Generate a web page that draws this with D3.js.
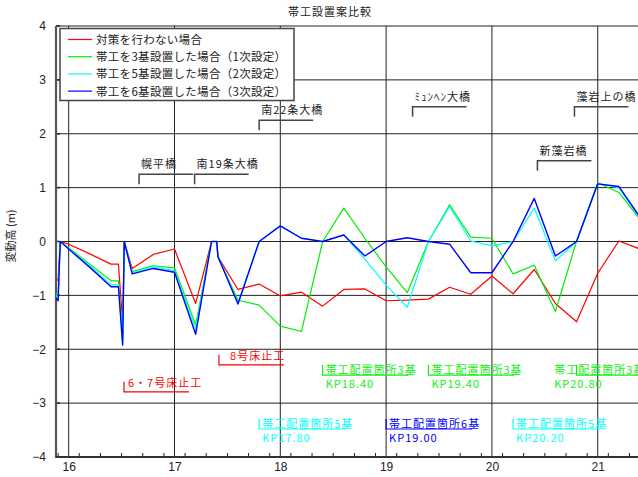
<!doctype html>
<html lang="ja">
<head>
<meta charset="UTF-8">
<title>帯工設置案比較</title>
<style>
  body { margin: 0; background: #fff; }
  svg { display: block; }
</style>
</head>
<body>
<script src="https://cdn.jsdelivr.net/npm/d3@7"></script>
<script>

    // KP (km) and 変動高 (m) for each case
    const kp = [15.88, 15.9, 15.92, 16.0, 16.2, 16.4, 16.47, 16.51, 16.525, 16.6, 16.8, 17.0, 17.2, 17.35, 17.4, 17.41,
        17.6, 17.8, 18.0, 18.2, 18.4, 18.6, 18.8, 19.0, 19.2, 19.4, 19.6, 19.8, 20.0, 20.2, 20.4, 20.6, 20.8, 21.0, 21.2, 21.4]
    const noMeasure = [-0.71, -0.72, 0, -0.05, -0.23, -0.42, -0.42, -1.5, 0, -0.50, -0.24, -0.14, -1.15, 0, 0, -0.28,
        -0.89, -0.79, -1.01, -0.94, -1.20, -0.89, -0.88, -1.10, -1.09, -1.07, -0.85, -0.98, -0.64, -0.97, -0.52, -1.15, -1.49, -0.59, 0.01, -0.14]
    const plan3 = [-0.96, -1.0, 0, -0.12, -0.42, -0.73, -0.73, -1.8, 0, -0.56, -0.45, -0.49, -1.55, 0, 0, -0.28,
        -1.09, -1.18, -1.57, -1.67, 0.0, 0.62, 0.06, -0.47, -0.95, 0.0, 0.68, 0.08, 0.06, -0.60, -0.44, -1.30, 0.01, 1.09, 0.91, 0.41]
    const plan5 = [-1.0, -1.05, 0, -0.13, -0.45, -0.80, -0.80, -1.88, 0, -0.58, -0.47, -0.54, -1.63, 0, 0, -0.28,
        -1.13, 0, 0.29, 0.06, 0.0, 0.12, -0.33, -0.81, -1.22, 0.0, 0.65, 0.01, -0.08, 0.0, 0.62, -0.36, 0.0, 1.08, 1.0, 0.43]
    const plan6 = [-1.05, -1.1, 0, -0.14, -0.48, -0.84, -0.84, -1.92, 0, -0.60, -0.50, -0.57, -1.72, 0, 0, -0.28,
        -1.16, 0, 0.29, 0.06, 0.0, 0.12, -0.27, 0.0, 0.07, 0.0, -0.05, -0.58, -0.58, 0.0, 0.80, -0.27, 0.0, 1.07, 1.02, 0.45]

    const seriesNames = ['対策を行わない場合', '帯工を3基設置した場合（1次設定）', '帯工を5基設置した場合（2次設定）', '帯工を6基設置した場合（3次設定）']
    const seriesValues = [noMeasure, plan3, plan5, plan6]
    const seriesColors = ['#ff0000', '#00ee00', '#00ffff', '#0000ff']

    const xTicks = [16, 17, 18, 19, 20, 21]
    const yTicks = [-4, -3, -2, -1, 0, 1, 2, 3, 4]

    // bridges: name, KP, level (m) of the bracket
    const bridgeNames = ['幌平橋', '南19条大橋', '南22条大橋', 'ﾐｭﾝﾍﾝ大橋', '新藻岩橋', '藻岩上の橋']
    const bridgeKP = [16.665, 17.19, 17.8, 19.25, 20.43, 20.78]
    const bridgeLevel = [1.25, 1.25, 2.25, 2.5, 1.5, 2.5]

    // drop structures (床止工)
    const weirNames = ['6・7号床止工', '8号床止工']
    const weirKP = [16.523, 17.42]
    const weirTextKP = [16.56, 17.525]
    const weirLevel = [-2.79, -2.29]

    // groyne placement notes
    const groyneLabels = ['帯工配置箇所3基', '帯工配置箇所3基', '帯工配置箇所3基', '帯工配置箇所5基', '帯工配置箇所6基', '帯工配置箇所5基']
    const groyneKP = [18.4, 19.4, 20.8, 17.8, 19.0, 20.2]
    const groyneTextKP = [18.4, 19.4, 20.56, 17.8, 19.0, 20.2]
    const groyneLevel = [-2.48, -2.48, -2.48, -3.48, -3.48, -3.48]
    const groyneSeries = [1, 1, 1, 2, 3, 2]

    const W = 638, H = 477
    const plot = {left: 56, right: 639, top: 26, bottom: 457}

    const svg = d3.select('body').append('svg')
        .attr('width', W)
        .attr('height', H)

    const x = d3.scaleLinear().domain([15.88, 21.39]).range([plot.left, plot.right])
    const y = d3.scaleLinear().domain([-4, 4]).range([plot.bottom, plot.top])

    const cjk = '"Noto Sans CJK JP", "Noto Sans", sans-serif'

    // grid
    svg.append('g').selectAll('line')
        .data(xTicks)
        .join('line')
        .attr('x1', d => x(d)).attr('x2', d => x(d))
        .attr('y1', plot.top).attr('y2', plot.bottom)
        .attr('stroke', '#222').attr('stroke-width', 1)

    svg.append('g').selectAll('line')
        .data(yTicks.slice(1, -1))
        .join('line')
        .attr('x1', plot.left).attr('x2', plot.right)
        .attr('y1', d => y(d)).attr('y2', d => y(d))
        .attr('stroke', '#222').attr('stroke-width', 1)

    // top border
    svg.append('line')
        .attr('x1', plot.left).attr('x2', plot.right)
        .attr('y1', plot.top).attr('y2', plot.top)
        .attr('stroke', '#222').attr('stroke-width', 1.2)

    // axes
    const xAxis = d3.axisBottom(x).tickValues(xTicks).tickSize(0).tickPadding(5).tickFormat(d3.format('d'))
    const gx = svg.append('g').attr('transform', `translate(0,${plot.bottom})`).call(xAxis)
    gx.select('.domain').remove()
    gx.selectAll('text').attr('font-family', '"Liberation Sans", Arial, sans-serif').attr('font-size', 12).attr('fill', '#222')

    const minor = d3.range(15.9, 21.39, 0.2).map(d => +d.toFixed(1)).filter(d => Math.abs(d - Math.round(d)) > 0.01)
    svg.append('g').selectAll('line')
        .data(minor)
        .join('line')
        .attr('x1', d => x(d)).attr('x2', d => x(d))
        .attr('y1', plot.bottom - 4).attr('y2', plot.bottom)
        .attr('stroke', '#222').attr('stroke-width', 1)

    const yAxis = d3.axisLeft(y).tickValues(yTicks).tickSize(0).tickPadding(10).tickFormat(d => d < 0 ? '\u2212' + Math.abs(d) : d)
    const gy = svg.append('g').attr('transform', `translate(${plot.left},0)`).call(yAxis)
    gy.select('.domain').remove()
    gy.selectAll('text').attr('font-family', '"Liberation Sans", Arial, sans-serif').attr('font-size', 12).attr('fill', '#222')

    svg.append('g').selectAll('line')
        .data(yTicks)
        .join('line')
        .attr('x1', plot.left).attr('x2', plot.left + 4)
        .attr('y1', d => y(d)).attr('y2', d => y(d))
        .attr('stroke', '#222').attr('stroke-width', 1.5)

    svg.append('line')
        .attr('x1', plot.left).attr('x2', plot.left)
        .attr('y1', plot.top).attr('y2', plot.bottom + 1)
        .attr('stroke', '#555').attr('stroke-width', 2.2)

    svg.append('line')
        .attr('x1', plot.left).attr('x2', plot.right)
        .attr('y1', plot.bottom).attr('y2', plot.bottom)
        .attr('stroke', '#333').attr('stroke-width', 2)

    // series lines
    const line = d3.line()
        .x(d => x(d[0]))
        .y(d => y(d[1]))

    seriesValues.forEach((vals, i) => {
        svg.append('path')
            .datum(kp.map((k, j) => [k, vals[j]]))
            .attr('d', line)
            .attr('fill', 'none')
            .attr('stroke', seriesColors[i])
            .attr('stroke-width', i == 3 ? 1.4 : 1.2)
            .attr('stroke-linejoin', 'round')
    })

    // bridge brackets
    const bridges = svg.append('g')
    bridgeNames.forEach((name, i) => {
        const bx = x(bridgeKP[i]), by = y(bridgeLevel[i])
        bridges.append('path')
            .attr('d', `M${bx},${by + 10}V${by}H${bx + 54}`)
            .attr('fill', 'none').attr('stroke', '#444').attr('stroke-width', 1.5)
        bridges.append('text')
            .attr('x', bx + 2).attr('y', by - 6)
            .attr('font-family', cjk).attr('font-size', 11)
            .attr('letter-spacing', 1)
            .attr('fill', '#222')
            .text(name)
    })

    // drop structures
    weirNames.forEach((name, i) => {
        const bx = x(weirKP[i]), by = y(weirLevel[i])
        svg.append('path')
            .attr('d', `M${bx},${by - 10}V${by}H${bx + 65}`)
            .attr('fill', 'none').attr('stroke', '#ff0000').attr('stroke-width', 1.2)
        svg.append('text')
            .attr('x', x(weirTextKP[i])).attr('y', by - 5)
            .attr('font-family', cjk).attr('font-size', 11)
            .attr('letter-spacing', 1)
            .attr('fill', '#ff0000')
            .text(name)
    })

    // groyne notes
    groyneLabels.forEach((label, i) => {
        const bx = x(groyneKP[i]), by = y(groyneLevel[i])
        const c = groyneSeries[i] == 1 ? '#11ee11' : seriesColors[groyneSeries[i]]
        svg.append('path')
            .attr('d', `M${bx},${by - 10}V${by}H${bx + 86}`)
            .attr('fill', 'none').attr('stroke', c).attr('stroke-width', 1.2)
        const tx = x(groyneTextKP[i]) + 3
        svg.append('text')
            .attr('x', tx).attr('y', by - 1)
            .attr('font-family', cjk).attr('font-size', 11)
            .attr('letter-spacing', 1)
            .attr('fill', c)
            .text(label)
        svg.append('text')
            .attr('x', tx).attr('y', by + 13)
            .attr('font-family', cjk).attr('font-size', 11)
            .attr('letter-spacing', 1)
            .attr('fill', c)
            .text('KP' + groyneKP[i].toFixed(2))
    })

    // legend
    const legend = svg.append('g')
    legend.append('rect')
        .attr('x', 60).attr('y', 28.5)
        .attr('width', 234).attr('height', 72)
        .attr('fill', '#fff').attr('stroke', '#444').attr('stroke-width', 1.5)
    seriesNames.forEach((name, i) => {
        const ly = 39.5 + i * 17.2
        legend.append('line')
            .attr('x1', 68).attr('x2', 92)
            .attr('y1', ly).attr('y2', ly)
            .attr('stroke', seriesColors[i]).attr('stroke-width', 1.2)
        legend.append('text')
            .attr('x', 96).attr('y', ly + 4.5)
            .attr('font-family', cjk).attr('font-size', 11.5)
            .attr('letter-spacing', 0.3)
            .attr('fill', '#222')
            .text(name)
    })

    // title and y label
    svg.append('text')
        .attr('x', 330).attr('y', 16)
        .attr('text-anchor', 'middle')
        .attr('font-family', cjk).attr('font-size', 11)
        .attr('letter-spacing', 1)
        .attr('fill', '#222')
        .text('帯工設置案比較')

    svg.append('text')
        .attr('transform', 'translate(15,236) rotate(-90)')
        .attr('text-anchor', 'middle')
        .attr('font-family', cjk).attr('font-size', 11)
        .attr('fill', '#222')
        .text('変動高 (m)')

</script>
</body>
</html>
